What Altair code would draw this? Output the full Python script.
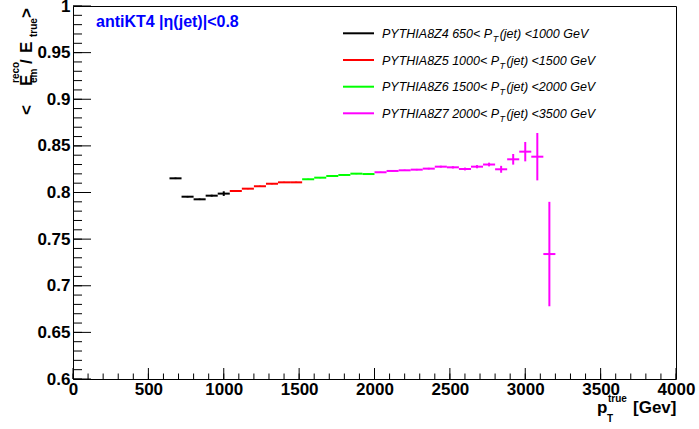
import altair as alt
import pandas as pd

# ---------------- data ----------------
series_names = ["Z4", "Z5", "Z6", "Z7"]
series_colors = ["#000000", "#ff0000", "#00ff00", "#ff00ff"]

z4_lo = [640, 720, 800, 880, 960]
z4_hi = [720, 800, 880, 960, 1040]
z4_val = [0.8152, 0.7955, 0.7927, 0.7966, 0.7988]
z4_err = [0.0008, 0.0008, 0.0008, 0.0010, 0.0025]

z5_lo = [1040, 1120, 1200, 1280, 1360, 1440]
z5_hi = [1120, 1200, 1280, 1360, 1440, 1520]
z5_val = [0.8016, 0.8041, 0.8067, 0.8094, 0.8109, 0.8109]
z5_err = [0.0006, 0.0006, 0.0006, 0.0006, 0.0006, 0.0007]

z6_lo = [1520, 1600, 1680, 1760, 1840, 1920]
z6_hi = [1600, 1680, 1760, 1840, 1920, 2000]
z6_val = [0.8142, 0.8159, 0.8177, 0.8188, 0.8202, 0.8198]
z6_err = [0.0006, 0.0006, 0.0006, 0.0006, 0.0006, 0.0007]

z7_lo = [2000, 2080, 2160, 2240, 2320, 2400, 2480, 2560, 2640, 2720, 2800, 2880, 2960, 3040, 3120]
z7_hi = [2080, 2160, 2240, 2320, 2400, 2480, 2560, 2640, 2720, 2800, 2880, 2960, 3040, 3120, 3200]
z7_val = [0.8217, 0.8231, 0.8238, 0.8245, 0.8256, 0.8277, 0.8270, 0.8252, 0.8277, 0.8300,
          0.8249, 0.8356, 0.8438, 0.8384, 0.7340]
z7_err = [0.0006, 0.0006, 0.0007, 0.0008, 0.0009, 0.0010, 0.0012, 0.0015, 0.0017, 0.0020,
          0.0037, 0.0057, 0.0104, 0.0254, 0.0560]

legend_labels = [
    ("PYTHIA8Z4 650< P", "(jet) <1000 GeV"),
    ("PYTHIA8Z5 1000< P", "(jet) <1500 GeV"),
    ("PYTHIA8Z6 1500< P", "(jet) <2000 GeV"),
    ("PYTHIA8Z7 2000< P", "(jet) <3500 GeV"),
]

x_major = [0, 500, 1000, 1500, 2000, 2500, 3000, 3500, 4000]
x_minor = list(range(0, 4001, 100))
y_major = [0.6, 0.65, 0.7, 0.75, 0.8, 0.85, 0.9, 0.95, 1.0]
y_minor = [round(0.6 + 0.01 * i, 2) for i in range(41)]

# ---------------- layout ----------------
W, H = 603, 373
OX, OY = 73, 6  # plot origin inside the 699x429 page
FONT = "Liberation Sans"

rows = []
for name, lo, hi, val, err in [
    ("Z4", z4_lo, z4_hi, z4_val, z4_err),
    ("Z5", z5_lo, z5_hi, z5_val, z5_err),
    ("Z6", z6_lo, z6_hi, z6_val, z6_err),
    ("Z7", z7_lo, z7_hi, z7_val, z7_err),
]:
    for a, b, v, e in zip(lo, hi, val, err):
        rows.append({"s": name, "lo": a, "hi": b, "mid": (a + b) / 2,
                     "val": v, "ylo": v - e, "yhi": v + e})
df = pd.DataFrame(rows)

xscale = alt.Scale(domain=[0, 4000], nice=False, zero=False)
yscale = alt.Scale(domain=[0.6, 1.0], nice=False, zero=False)
xaxis = alt.Axis(values=x_major, ticks=False, domain=False, grid=False, title=None,
                 labelFont=FONT, labelFontWeight="bold", labelFontSize=17,
                 labelColor="black", labelPadding=2, labelFlush=False,
                 labelOverlap=False, format="d")
yaxis = alt.Axis(values=y_major, ticks=False, domain=False, grid=False, title=None,
                 labelFont=FONT, labelFontWeight="bold", labelFontSize=17,
                 labelColor="black", labelPadding=3, labelFlush=False,
                 labelOverlap=False, format=".2~f")
color = alt.Color("s:N", scale=alt.Scale(domain=series_names, range=series_colors), legend=None)

X = lambda f: alt.X(f, type="quantitative", scale=xscale, axis=xaxis)
Y = lambda f: alt.Y(f, type="quantitative", scale=yscale, axis=yaxis)

hbars = alt.Chart(df).mark_rule(strokeWidth=2).encode(x=X("lo"), x2="hi", y=Y("val"), color=color)
vbars = alt.Chart(df).mark_rule(strokeWidth=2).encode(x=X("mid"), y=Y("ylo"), y2="yhi", color=color)

def xticks(vals, length):
    d = pd.DataFrame({"v": vals})
    return alt.Chart(d).mark_rule(color="black", strokeWidth=1).encode(
        x=X("v"), y=alt.value(H), y2=alt.value(H - length))

def yticks(vals, length):
    d = pd.DataFrame({"v": vals})
    return alt.Chart(d).mark_rule(color="black", strokeWidth=1).encode(
        y=Y("v"), x=alt.value(0), x2=alt.value(length))

one = pd.DataFrame({"t": [""]})

def txt(s, ax, ay, size, weight="normal", style="normal", col="black", angle=0, align="left"):
    d = pd.DataFrame({"t": [s]})
    kw = dict(font=FONT, fontSize=size, fontWeight=weight, fontStyle=style, color=col,
              align=align, baseline="alphabetic")
    if angle:
        kw["angle"] = angle
    return alt.Chart(d).mark_text(**kw).encode(
        text="t:N", x=alt.value(ax - OX), y=alt.value(ay - OY))

def hw(s):
    w = {"P": 667, "Y": 667, "T": 611, "H": 722, "I": 278, "A": 667, "Z": 611,
         " ": 278, "<": 584, "(": 333, ")": 333, "j": 222, "e": 556, "t": 278,
         "G": 778, "V": 667}
    return sum(w.get(c, 556) for c in s) / 1000.0

layers = [xticks(x_minor, 5.5), xticks(x_major, 11), yticks(y_minor, 9), yticks(y_major, 18),
          hbars, vbars]

# title
layers.append(txt("antiKT4 |η(jet)|<0.8", 96, 27, 16, weight="bold", col="#0000ff"))

# legend
leg_y = [33.3, 60, 86.7, 113.3]
LS = 12.5
for (a, b), c, yr in zip(legend_labels, series_colors, leg_y):
    layers.append(alt.Chart(one).mark_rule(color=c, strokeWidth=2).encode(
        x=alt.value(343 - OX), x2=alt.value(374 - OX), y=alt.value(yr - OY)))
    x0 = 382
    x1 = x0 + hw(a) * LS
    layers.append(txt(a, x0, yr + 4.5, LS, style="italic"))
    layers.append(txt("T", x1 + 0.5, yr + 8.5, 9, style="italic"))
    layers.append(txt(b, x1 + 7.5, yr + 4.5, LS, style="italic"))

# x axis title
layers.append(txt("p", 597, 413, 17, weight="bold"))
layers.append(txt("true", 608, 402, 10, weight="bold"))
layers.append(txt("T", 607, 422, 10, weight="bold"))
layers.append(txt("[Gev]", 633, 413, 17, weight="bold"))

# y axis title (rotated, reading bottom to top)
layers.append(txt("<", 32, 115, 17, weight="bold", angle=270))
layers.append(txt("E", 32, 86, 17, weight="bold", angle=270))
layers.append(txt("reco", 19, 83, 10, weight="bold", angle=270))
layers.append(txt("em", 37, 83, 10, weight="bold", angle=270))
layers.append(txt("/", 32, 64, 17, weight="bold", angle=270))
layers.append(txt("E", 32, 53, 17, weight="bold", angle=270))
layers.append(txt("true", 37, 37, 10, weight="bold", angle=270))
layers.append(txt(">", 32, 18, 17, weight="bold", angle=270))

chart = alt.layer(*layers).properties(
    width=W, height=H,
    autosize=alt.AutoSizeParams(type="none"),
    padding={"left": OX, "top": OY, "right": 699 - OX - W, "bottom": 429 - OY - H},
    background="white",
).configure_view(stroke="black", strokeWidth=1)

chart.save("out.html", embed_options={"renderer": "svg", "actions": False})
